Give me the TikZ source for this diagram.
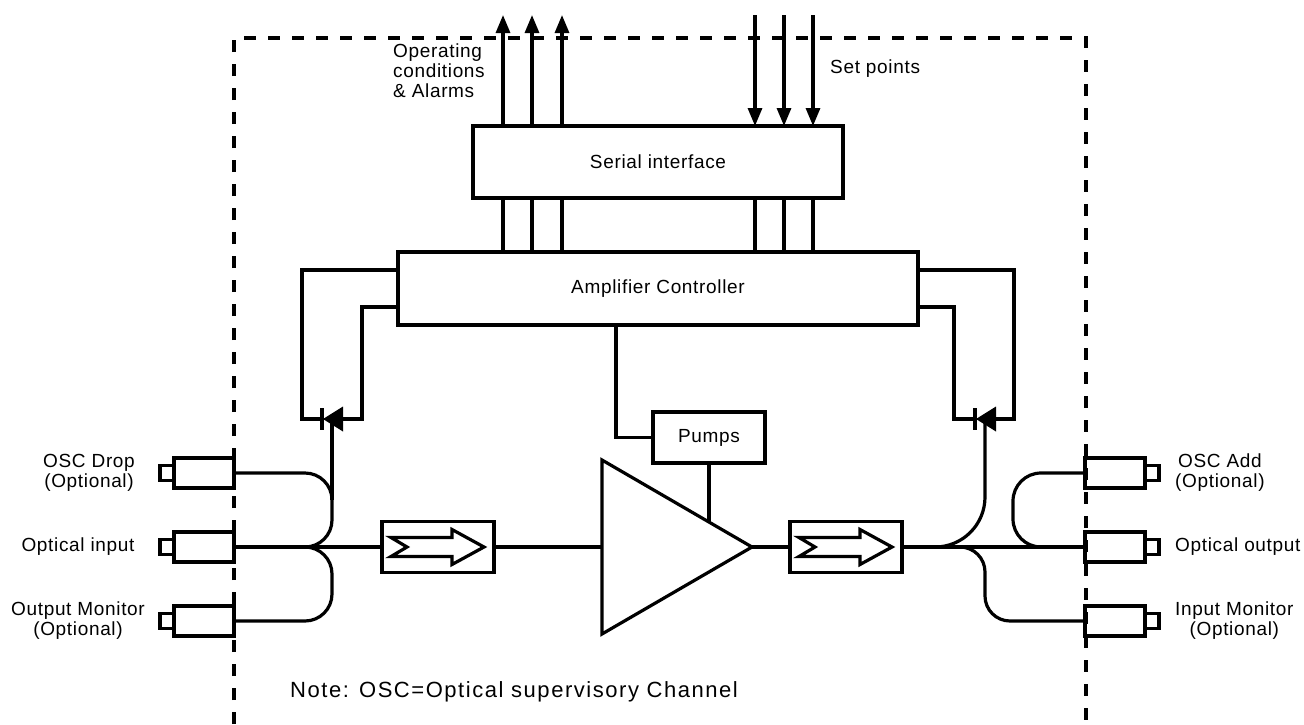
\documentclass[tikz,border=0pt]{standalone}
\usepackage{fontspec}
\setmainfont{Liberation Sans}[LetterSpace=3.5]
\newfontfamily\notefont{Liberation Sans}[LetterSpace=7]
\usetikzlibrary{arrows.meta}

\tikzset{
  lbl/.style={inner sep=0pt, font=\fontsize{19}{20}\selectfont, align=center},
  blk/.style={draw, line width=3.2pt, inner sep=0pt, outer sep=0pt, font=\fontsize{19}{20}\selectfont},
  con/.style={draw, line width=3.2pt, minimum width=60pt, minimum height=30pt, inner sep=0pt, outer sep=0pt},
  plug/.style={draw, line width=3.2pt, minimum width=14pt, minimum height=15pt, inner sep=0pt, outer sep=0pt},
  wire/.style={line width=3.2pt},
  sig/.style={line width=3.2pt, -{Triangle[length=18pt,width=14pt]}},
  fence/.style={line width=3.2pt, dash pattern=on 12pt off 12pt},
}

\begin{document}
\begin{tikzpicture}[x=1pt, y=-1pt]
  \useasboundingbox (0,0) rectangle (1304,724);
  % module outline
  \draw[fence] (234,724) -- (234,38) -- (1086,38) -- (1086,724);

  % control part
  \node[blk, minimum width=370pt, minimum height=72pt] (serial) at (658,162) {Serial interface};
  \node[blk, minimum width=520pt, minimum height=73pt] (ctrl) at (658,288.5) {Amplifier Controller};
  \node[blk, minimum width=112pt, minimum height=51pt] (pumps) at (709,437.5) {Pumps};

  \foreach \x [count=\i] in {503,532,562,755,784,813}
    \coordinate (bus\i) at (\x,15);
  \foreach \i in {1,...,6}
    \draw[wire] (bus\i |- serial.south) -- (bus\i |- ctrl.north);
  \foreach \i in {1,2,3}
    \draw[sig] (bus\i |- serial.north) -- (bus\i);
  \foreach \i in {4,5,6}
    \draw[sig] (bus\i) -- (bus\i |- serial.north);

  \node[lbl, align=left, anchor=west] (opcond) at (393,71) {Operating\\conditions\\\& Alarms};
  \node[lbl, anchor=west] (setpts) at (830,69) {Set points};

  % connectors
  \node[con] (drop) at (204,473) {};
  \node[con] (inp) at (204,547) {};
  \node[con] (outmon) at (204,621) {};
  \node[con] (add) at (1115,473) {};
  \node[con] (outp) at (1115,547) {};
  \node[con] (inmon) at (1115,621) {};
  \foreach \n in {drop,inp,outmon}
    \node[plug, anchor=east] (\n-plug) at (\n.west) {};
  \foreach \n in {add,outp,inmon}
    \node[plug, anchor=west] (\n-plug) at (\n.east) {};

  \node[lbl] (droplbl) at (89,473) {OSC Drop\\(Optional)};
  \node[lbl] (inplbl) at (78,547) {Optical input};
  \node[lbl] (outmonlbl) at (78,621) {Output Monitor\\(Optional)};
  \node[lbl, anchor=west] (addlbl) at (1175,473) {OSC Add\\(Optional)};
  \node[lbl, anchor=west] (outplbl) at (1175,547) {Optical output};
  \node[lbl, anchor=west] (inmonlbl) at (1175,621) {Input Monitor\\(Optional)};

  % isolators and amplifier
  \node[blk, minimum width=112pt, minimum height=51pt] (iso1) at (438,547) {};
  \node[blk, minimum width=112pt, minimum height=51pt] (iso2) at (846,547) {};
  \foreach \n in {iso1,iso2}
    \draw[wire, shift={(\n.center)}] (-47,-9.5) -- (14,-9.5) -- (14,-17.5) -- (46,0)
      -- (14,17.5) -- (14,9.5) -- (-47,9.5) -- (-31,0) -- cycle;

  \coordinate (amptop) at (602,460);
  \coordinate (ampbot) at (602,634);
  \coordinate (ampin) at (602,547);
  \coordinate (amptip) at (752,547);
  \coordinate (pumpin) at (709,522);
  \draw[wire] (amptop) -- (amptip) -- (ampbot) -- cycle;
  \draw[wire] (pumps.south) -- (pumpin);
  \draw[wire] ([xshift=-42pt]ctrl.south) |- (pumps.west);

  \draw[wire] (inp.east) -- (iso1.west);
  \draw[wire] (iso1.east) -- (ampin);
  \draw[wire] (amptip) -- (iso2.west);
  \draw[wire] (iso2.east) -- (outp.west);

  % monitor diodes
  \coordinate (ltap) at (332,419);
  \coordinate (rtap) at (985,419);
  \foreach \n in {ltap,rtap} {
    \fill[shift={(\n)}] (-9,0) -- (11,-12.5) -- (11,12.5) -- cycle;
    \draw[wire, shift={(\n)}] (-10,-11) -- (-10,11);
  }
  \draw[wire] ([yshift=18.5pt]ctrl.west) -| ([xshift=-30pt]ltap) -- ([xshift=-10pt]ltap);
  \draw[wire] ([yshift=-18.5pt]ctrl.west) -| ([xshift=30pt]ltap) -- ([xshift=11pt]ltap);
  \draw[wire] ([yshift=18.5pt]ctrl.east) -| ([xshift=29pt]rtap) -- ([xshift=11pt]rtap);
  \draw[wire] ([yshift=-18.5pt]ctrl.east) -| ([xshift=-31pt]rtap) -- ([xshift=-10pt]rtap);

  % couplers
  \draw[wire] (ltap) -- ++(0,81);
  \draw[wire, rounded corners=27pt] (drop.east) -- (ltap |- drop.east) -- (ltap |- inp.east) -- (300,547);
  \draw[wire, rounded corners=27pt] (outmon.east) -- (ltap |- outmon.east) -- (ltap |- inp.east) -- (300,547);
  \draw[wire, rounded corners=50pt] (iso2.east) -- (rtap |- outp.west) -- (rtap);
  \draw[wire, rounded corners=25pt] (iso2.east) -- (rtap |- outp.west) -- (rtap |- inmon.west) -- (inmon.west);
  \coordinate (addbend) at (1013,547);
  \draw[wire, rounded corners=28pt] (add.west) -- (addbend |- add.west) -- (addbend) -- (1060,547);

  \node[lbl, anchor=west, font=\notefont\fontsize{22}{24}\selectfont] (note) at (290,692) {Note: OSC=Optical supervisory Channel};
\end{tikzpicture}
\end{document}
